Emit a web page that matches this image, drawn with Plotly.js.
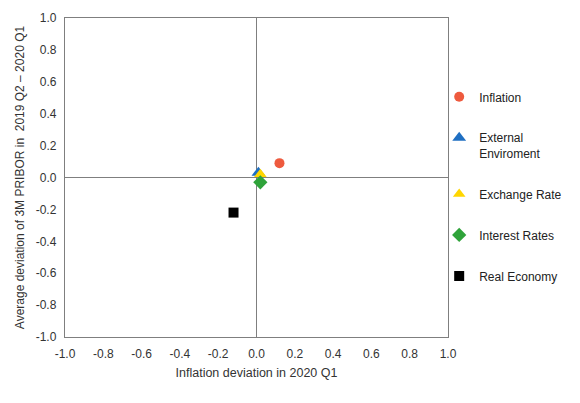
<!DOCTYPE html>
<html>
<head>
<meta charset="utf-8">
<script src="https://cdn.plot.ly/plotly-3.0.1.min.js"></script>
<style>
  html, body { margin: 0; padding: 0; background: #fff; }
  #chart { width: 580px; height: 403px; }
</style>
</head>
<body>
<div id="chart"></div>
<script>
// series names (as in legend), x = inflation deviation, y = PRIBOR deviation
var names = ['Inflation', 'External<br>Enviroment', 'Exchange Rate', 'Interest Rates', 'Real Economy'];
var xVals = [0.12, 0.01, 0.02, 0.02, -0.12];
var yVals = [0.09, 0.03, 0.02, -0.03, -0.22];
var colors = ['#EE5A3E', '#1F6FC2', '#FFD600', '#2FA33A', '#000000'];
var symbols = ['circle', 'triangle-up', 'triangle-up', 'diamond', 'square'];
var sizes = [10, 12, 11, 11, 10];

var tickVals = [-1, -0.8, -0.6, -0.4, -0.2, 0, 0.2, 0.4, 0.6, 0.8, 1];
var tickText = ['-1.0', '-0.8', '-0.6', '-0.4', '-0.2', '0.0', '0.2', '0.4', '0.6', '0.8', '1.0'];

var data = names.map(function (n, i) {
  return {
    x: [xVals[i]],
    y: [yVals[i]],
    name: n,
    legendgroup: 'g' + i,
    type: 'scatter',
    mode: 'markers',
    marker: { color: colors[i], symbol: symbols[i], size: sizes[i], line: { width: 0 } },
    hoverinfo: 'name+x+y'
  };
});

var axisBase = {
  range: [-1, 1],
  tickvals: tickVals,
  ticktext: tickText,
  showgrid: false,
  zeroline: true,
  zerolinecolor: '#7f7f7f',
  zerolinewidth: 1.5,
  showline: true,
  linecolor: '#7f7f7f',
  linewidth: 1.2,
  mirror: true,
  ticks: '',
  ticklabelstandoff: 5,
  tickfont: { size: 12, color: '#333' }
};

var layout = {
  width: 580,
  height: 403,
  margin: { l: 65, r: 132, t: 18, b: 66, autoexpand: false },
  paper_bgcolor: '#fff',
  plot_bgcolor: '#fff',
  font: { family: 'Liberation Sans, Arial, sans-serif', size: 12, color: '#333' },
  xaxis: Object.assign({}, axisBase, {
    title: { text: 'Inflation deviation in 2020 Q1', font: { size: 12.5 }, standoff: 8 }
  }),
  yaxis: Object.assign({}, axisBase, {
    title: { text: 'Average deviation of 3M PRIBOR in  2019 Q2 \u2013 2020 Q1', font: { size: 12 }, standoff: 8 }
  }),
  showlegend: true,
  legend: {
    x: 0.977,
    xanchor: 'left',
    y: 0.798,
    yanchor: 'top',
    valign: 'top',
    tracegroupgap: 22,
    itemwidth: 30,
    font: { size: 12, color: '#222' },
    bgcolor: 'rgba(0,0,0,0)'
  }
};

Plotly.newPlot('chart', data, layout, { displayModeBar: false, staticPlot: true });
</script>
</body>
</html>
